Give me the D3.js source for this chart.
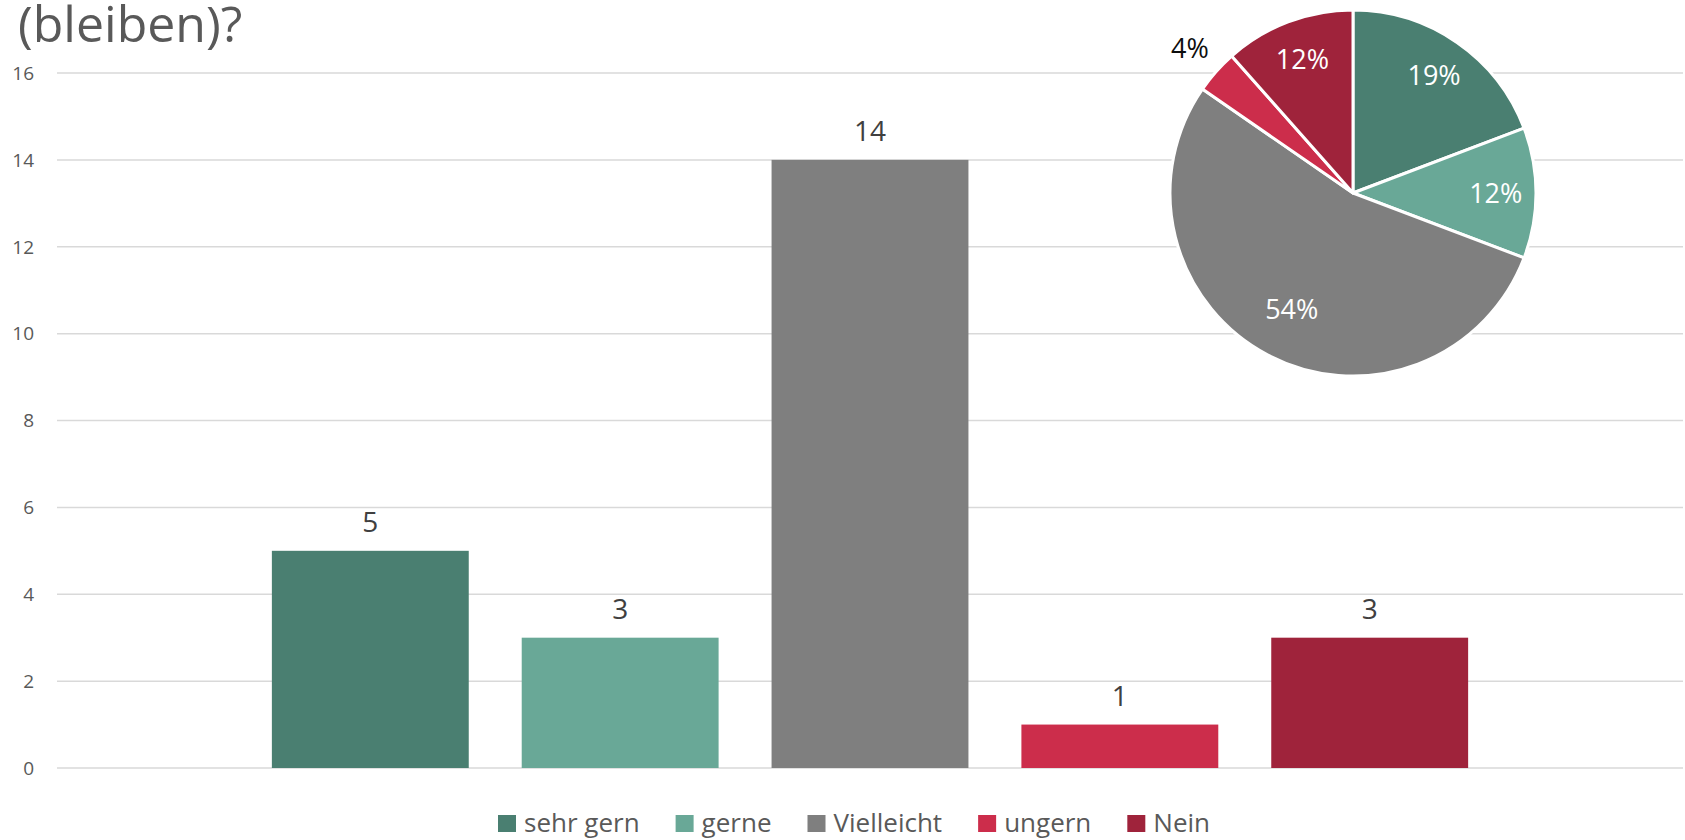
<!DOCTYPE html>
<html>
<head>
<meta charset="utf-8">
<script src="https://cdn.jsdelivr.net/npm/d3@7"></script>
<style>
  html, body { margin: 0; padding: 0; background: #fff; }
  svg { display: block; font-family: "Open Sans", sans-serif; }
</style>
</head>
<body>
<svg id="chart" width="1685" height="840"></svg>
<script>
const categories = ["sehr gern", "gerne", "Vielleicht", "ungern", "Nein"];
const values = [5, 3, 14, 1, 3];
const colors = ["#4a7f71", "#69a897", "#7f7f7f", "#cc2d4b", "#9f233b"];
const yTicks = [0, 2, 4, 6, 8, 10, 12, 14, 16];
const titleText = "(bleiben)?";

const svg = d3.select("#chart");

// Title (its first line lies above the visible area, as in the reference)
svg.append("text")
  .attr("x", 18).attr("y", 42)
  .attr("fill", "#595959")
  .style("font-size", "50px")
  .text(titleText);

// Scales
const plotLeft = 57, plotRight = 1683;
const y = d3.scaleLinear().domain([0, 16]).range([768, 73]);
const x = d3.scaleBand().domain(categories)
  .range([plotLeft, plotRight])
  .paddingInner(0.212)
  .paddingOuter(0.86);

// Gridlines
svg.append("g").selectAll("line").data(yTicks).join("line")
  .attr("x1", plotLeft).attr("x2", plotRight)
  .attr("y1", d => y(d)).attr("y2", d => y(d))
  .attr("stroke", "#d9d9d9").attr("stroke-width", 1.5);

// Y tick labels
svg.append("g").selectAll("text").data(yTicks).join("text")
  .attr("x", 34).attr("y", d => y(d))
  .attr("dy", "0.36em")
  .attr("text-anchor", "end")
  .attr("fill", "#595959")
  .style("font-size", "19px")
  .text(d => d);

// Bars
svg.append("g").selectAll("rect").data(categories).join("rect")
  .attr("x", d => x(d))
  .attr("width", x.bandwidth())
  .attr("y", (d, i) => y(values[i]))
  .attr("height", (d, i) => y(0) - y(values[i]))
  .attr("fill", (d, i) => colors[i]);

// Bar value labels
svg.append("g").selectAll("text").data(categories).join("text")
  .attr("x", d => x(d) + x.bandwidth() / 2)
  .attr("y", (d, i) => y(values[i]) - 19)
  .attr("text-anchor", "middle")
  .attr("fill", "#404040")
  .style("font-size", "28px")
  .text((d, i) => values[i]);

// Pie
const cx = 1353, cy = 193, r = 183;
const total = d3.sum(values);
const pie = d3.pie().sort(null).value(d => d.v);
const arcs = pie(categories.map((c, i) => ({ c, v: values[i], col: colors[i] })));
const arc = d3.arc().innerRadius(0).outerRadius(r);
const labelArc = d3.arc().innerRadius(r * 0.78).outerRadius(r * 0.78);
const bigArc = d3.arc().innerRadius(r * 0.72).outerRadius(r * 0.72);
const outArc = d3.arc().innerRadius(r * 1.19).outerRadius(r * 1.19);
const pg = svg.append("g").attr("transform", `translate(${cx},${cy})`);
pg.selectAll("path").data(arcs).join("path")
  .attr("d", arc)
  .attr("fill", d => d.data.col)
  .attr("stroke", "#fff").attr("stroke-width", 3)
  .attr("stroke-linejoin", "round");
pg.selectAll("text").data(arcs).join("text")
  .attr("transform", d => {
    const share = d.data.v / total;
    const a = share < 0.05 ? outArc : (share > 0.5 ? bigArc : labelArc);
    const p = a.centroid(d);
    return `translate(${p[0]},${p[1]})`;
  })
  .attr("dy", "0.36em")
  .attr("text-anchor", "middle")
  .attr("fill", d => d.data.v / total < 0.05 ? "#0d0d0d" : "#ffffff")
  .style("font-size", "27px")
  .text(d => Math.round(d.data.v / total * 100) + "%");

// Legend
const lg = svg.append("g");
const items = lg.selectAll("g").data(categories).join("g");
items.append("rect")
  .attr("width", 18).attr("height", 17)
  .attr("y", 815)
  .attr("fill", (d, i) => colors[i]);
items.append("text")
  .attr("x", 26).attr("y", 832)
  .attr("fill", "#595959")
  .style("font-size", "26px")
  .text(d => d);
let cursor = 0;
const offsets = [];
items.each(function () {
  const w = d3.select(this).select("text").node().getComputedTextLength();
  offsets.push(cursor);
  cursor += 26 + w + 36;
});
const legendWidth = cursor - 36;
const legendStart = 854 - legendWidth / 2;
items.attr("transform", (d, i) => `translate(${legendStart + offsets[i]},0)`);
</script>
</body>
</html>
